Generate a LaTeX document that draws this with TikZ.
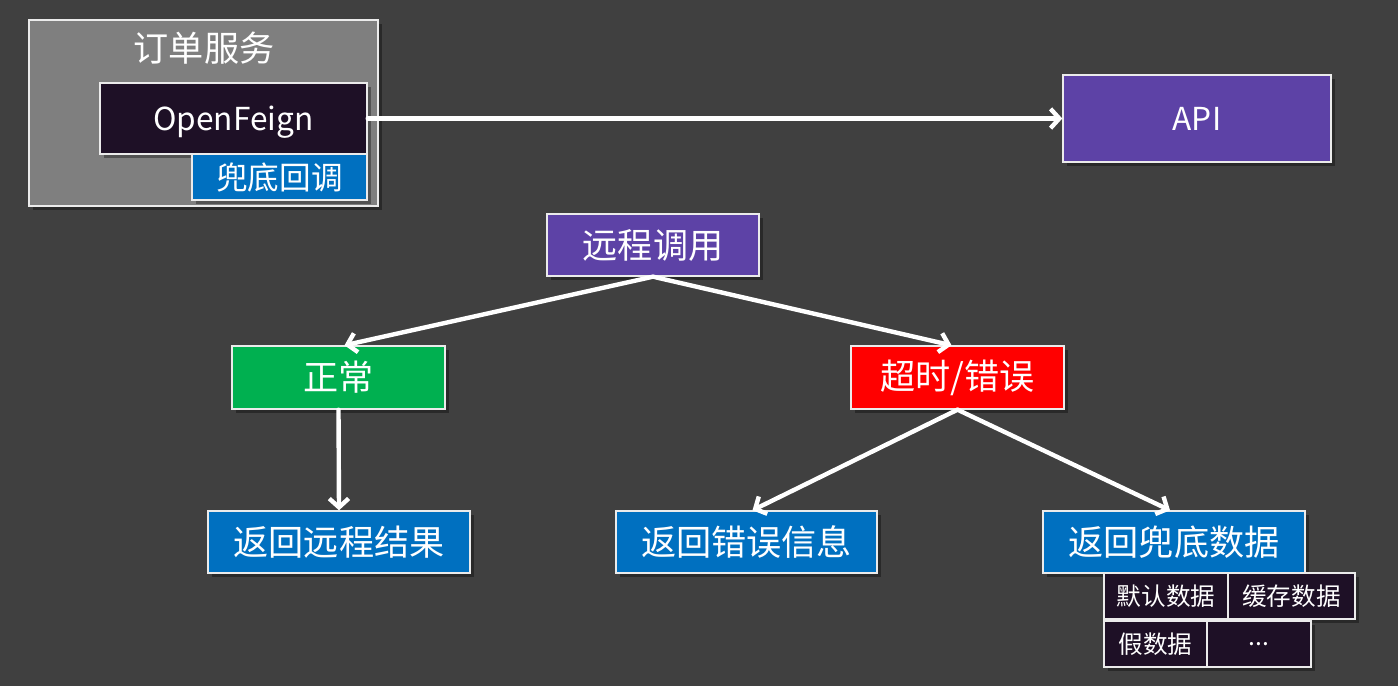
\documentclass[tikz,border=0pt]{standalone}
\usepackage{fontspec}
\setmainfont{Noto Sans CJK SC}
\usepackage{tikz}
\usetikzlibrary{arrows.meta, positioning, shadows}
\definecolor{bgdark}{RGB}{64, 64, 64}
\definecolor{svcgray}{RGB}{127, 127, 127}
\definecolor{inkbox}{RGB}{30, 16, 38}
\definecolor{callpurple}{RGB}{93, 66, 166}
\definecolor{fbblue}{RGB}{0, 112, 192}
\definecolor{okgreen}{RGB}{0, 176, 80}
\definecolor{errred}{RGB}{255, 0, 0}

\begin{document}
\begin{tikzpicture}[
  x=0.02cm, y=-0.02cm,
  box/.style={draw=white!92!black, line width=0.8pt, text=white, inner sep=0pt,
    font=\fontsize{20}{24}\selectfont,
    drop shadow={shadow xshift=2pt, shadow yshift=-2pt, opacity=0.35, fill=black}},
  smallbox/.style={box, fill=inkbox, font=\fontsize{14}{17}\selectfont},
  flow/.style={draw=white, line width=2.5pt, line cap=round,
    -{Straight Barb[length=5pt, width=11pt, line width=2.5pt]}}
]
  \fill[bgdark] (0,0) rectangle (1398,686);

  % order service with feign client
  \node[box, fill=svcgray, minimum width=349*0.02cm, minimum height=186*0.02cm] (svc) at (203.5,113) {};
  \node[text=white, font=\fontsize{20}{24}\selectfont] (svctitle) at (204,48) {订单服务};
  \node[box, fill=inkbox, font=\fontsize{18}{22}\selectfont, text depth=0pt, minimum width=267*0.02cm, minimum height=71*0.02cm] (feign) at (233.5,118.5) {OpenFeign};
  \node[box, fill=fbblue, font=\fontsize{18}{22}\selectfont, minimum width=175*0.02cm, minimum height=46*0.02cm] (fallback) at (279.5,177) {兜底回调};
  \node[box, fill=callpurple, font=\fontsize{18}{22}\selectfont, text depth=0pt, minimum width=268*0.02cm, minimum height=87*0.02cm] (api) at (1197,118.5) {API};

  % call tree
  \node[box, fill=callpurple, minimum width=212*0.02cm, minimum height=62*0.02cm] (call) at (653,245) {远程调用};
  \node[box, fill=okgreen, minimum width=213*0.02cm, minimum height=63*0.02cm] (ok) at (338.5,377.5) {正常};
  \node[box, fill=errred, minimum width=213*0.02cm, minimum height=63*0.02cm] (err) at (957.5,377.5) {超时/错误};
  \node[box, fill=fbblue, minimum width=262*0.02cm, minimum height=62*0.02cm] (result) at (339,542) {返回远程结果};
  \node[box, fill=fbblue, minimum width=261*0.02cm, minimum height=62*0.02cm] (errmsg) at (746.5,542) {返回错误信息};
  \node[box, fill=fbblue, minimum width=262*0.02cm, minimum height=62*0.02cm] (fbdata) at (1174,542) {返回兜底数据};

  % kinds of fallback data
  \node[smallbox, minimum width=124*0.02cm, minimum height=46*0.02cm] (defdata) at (1166,596) {默认数据};
  \node[smallbox, minimum width=127*0.02cm, minimum height=46*0.02cm] (cachedata) at (1291.5,596) {缓存数据};
  \node[smallbox, minimum width=103*0.02cm, minimum height=46*0.02cm] (fakedata) at (1155.5,644) {假数据};
  \node[smallbox, minimum width=104*0.02cm, minimum height=46*0.02cm] (moredata) at (1259,644) {...};

  \draw[flow] (feign.east) -- (api.west);
  \draw[flow] (call.south) -- ([xshift=6*0.02cm]ok.north);
  \draw[flow] (call.south) -- ([xshift=-6*0.02cm]err.north);
  \draw[flow] (ok.south) -- (result.north);
  \draw[flow] (err.south) -- ([xshift=6*0.02cm]errmsg.north);
  \draw[flow] (err.south) -- ([xshift=-4*0.02cm]fbdata.north);
\end{tikzpicture}
\end{document}
